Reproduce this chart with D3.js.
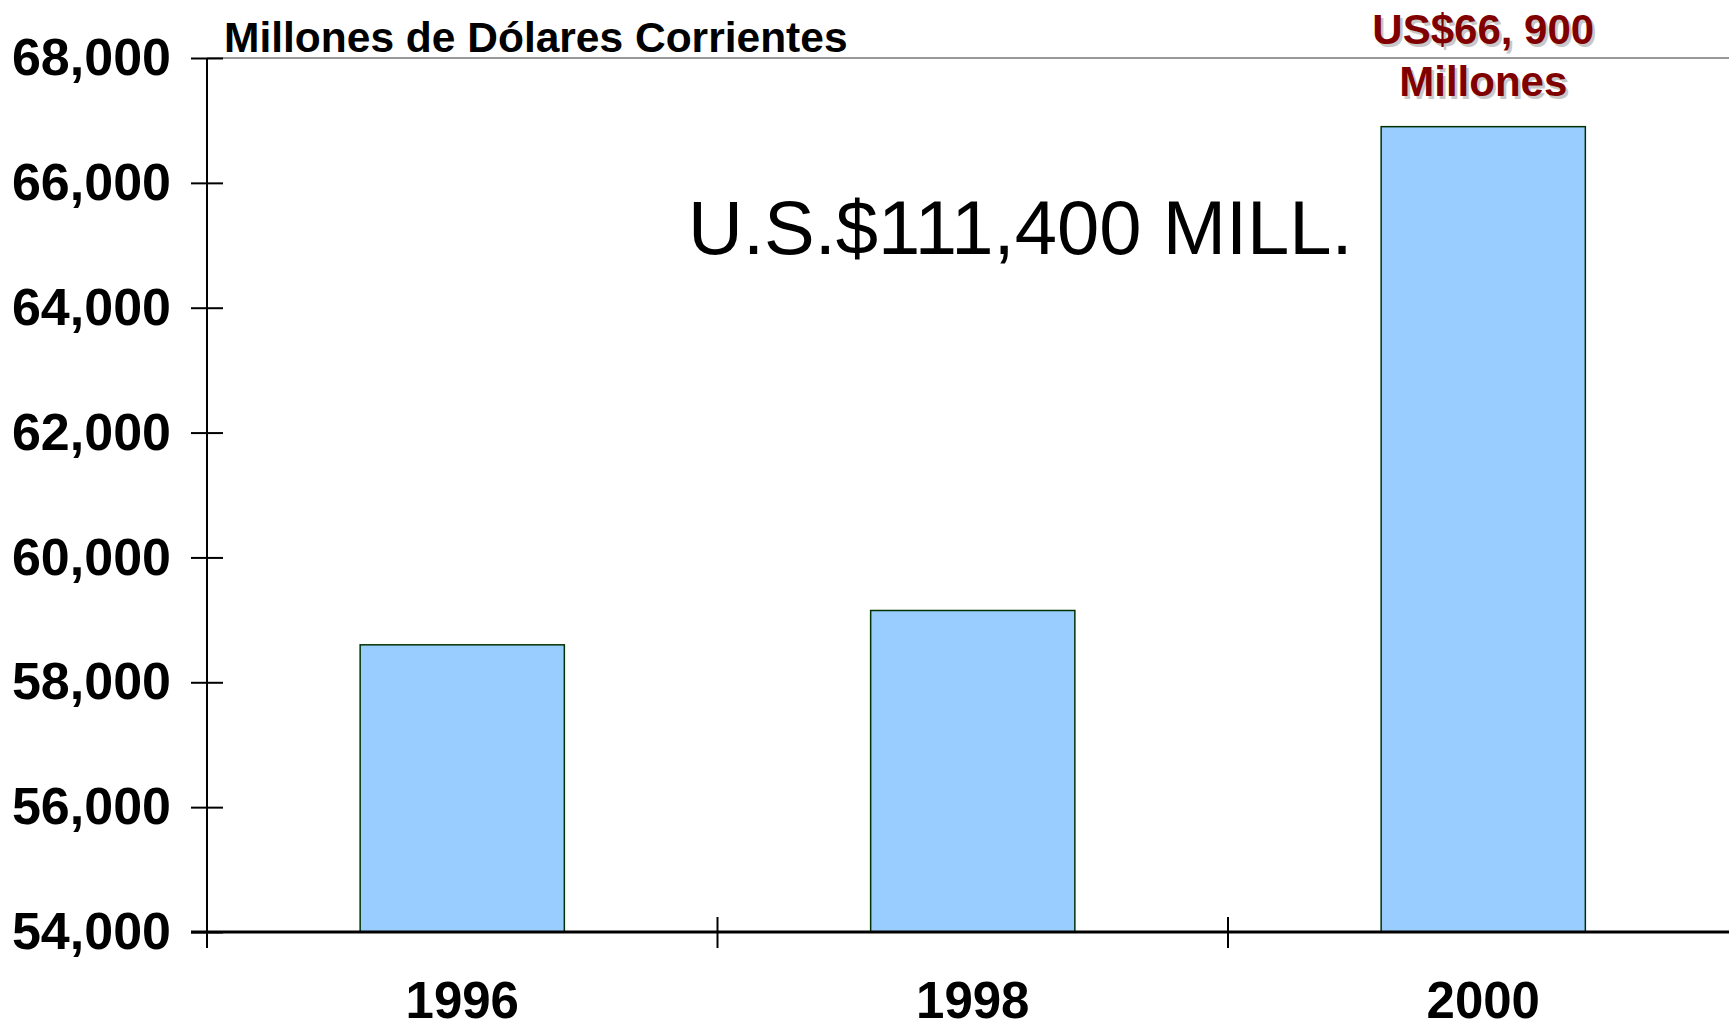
<!DOCTYPE html>
<html>
<head>
<meta charset="utf-8">
<script src="https://cdn.jsdelivr.net/npm/d3@7/dist/d3.min.js"></script>
<style>
  html, body { margin: 0; padding: 0; background: #fff; }
  svg { display: block; }
  text { font-family: "Liberation Sans", Arial, sans-serif; }
</style>
</head>
<body>
<svg id="chart" width="1729" height="1028"></svg>
<script>
const years = ["1996", "1998", "2000"];
const values = [58600, 59150, 66900];
const yTicks = [54000, 56000, 58000, 60000, 62000, 64000, 66000, 68000];
const unitLabel = "Millones de Dólares Corrientes";
const totalLabel = "U.S.$111,400 MILL.";
const peakLabel = ["US$66, 900", "Millones"];

(function () {
const svg = d3.select("#chart");
const W = 1729, H = 1028;
const axisX = 207, plotTop = 58, base = 932;

const y = d3.scaleLinear().domain([54000, 68000]).range([base, plotTop]);
const step = 510.5;
const x = d3.scaleBand().domain(years)
  .range([axisX, axisX + step * years.length])
  .paddingInner(0.6).paddingOuter(0.3);

// top gray border line
svg.append("line")
  .attr("x1", axisX).attr("x2", W).attr("y1", y(68000)).attr("y2", y(68000))
  .attr("stroke", "#999").attr("stroke-width", 2);

// bars
svg.append("g").selectAll("rect").data(years).join("rect")
  .attr("x", d => x(d))
  .attr("y", (d, i) => y(values[i]))
  .attr("width", x.bandwidth())
  .attr("height", (d, i) => y(54000) - y(values[i]))
  .attr("fill", "#99CCFF")
  .attr("stroke", "#003300")
  .attr("stroke-width", 1.5);

// y axis
const yAxis = d3.axisLeft(y).tickValues(yTicks).tickFormat(d3.format(",")).tickSize(0).tickPadding(36);
const gy = svg.append("g").attr("transform", `translate(${axisX},0)`).call(yAxis);
gy.select(".domain").remove();
gy.selectAll(".tick text")
  .attr("font-size", 52).attr("font-weight", "bold").attr("fill", "#000")
  .attr("font-family", "Liberation Sans, Arial, sans-serif");
gy.selectAll(".tick").append("line")
  .attr("x1", -16).attr("x2", 16).attr("stroke", "#000").attr("stroke-width", 2);
gy.append("line").attr("x1", 0).attr("x2", 0).attr("y1", plotTop).attr("y2", base + 16)
  .attr("stroke", "#000").attr("stroke-width", 2);

// x axis
const gx = svg.append("g").attr("transform", `translate(0,${base})`);
gx.append("line").attr("x1", axisX - 16).attr("x2", W).attr("stroke", "#000").attr("stroke-width", 3);
years.slice(1).forEach(d => {
  const bx = x(d) - (x.step() - x.bandwidth()) / 2;
  gx.append("line").attr("x1", bx).attr("x2", bx).attr("y1", -15).attr("y2", 16)
    .attr("stroke", "#000").attr("stroke-width", 2);
});
gx.selectAll("text.cat").data(years).join("text").attr("class", "cat")
  .attr("x", d => x(d) + x.bandwidth() / 2)
  .attr("y", 86)
  .attr("text-anchor", "middle")
  .attr("font-size", 51).attr("font-weight", "bold").attr("fill", "#000")
  .text(d => d);

// unit label
svg.append("text").attr("x", 224).attr("y", 52)
  .attr("font-size", 42.5).attr("font-weight", "bold").attr("fill", "#000")
  .text(unitLabel);

// total label
svg.append("text").attr("x", 688).attr("y", 254)
  .attr("font-size", 76).attr("fill", "#000")
  .text(totalLabel);

// peak annotation with shadow
const cx = x("2000") + x.bandwidth() / 2;
const peak = svg.append("g");
[[2.5, "#c8c8c8"], [0, "#800000"]].forEach(([off, col]) => {
  peakLabel.forEach((t, i) => {
    peak.append("text")
      .attr("x", cx + off).attr("y", 44 + i * 52 + off)
      .attr("text-anchor", "middle")
      .attr("font-size", 42).attr("font-weight", "bold").attr("fill", col)
      .text(t);
  });
});
})();
</script>
</body>
</html>
